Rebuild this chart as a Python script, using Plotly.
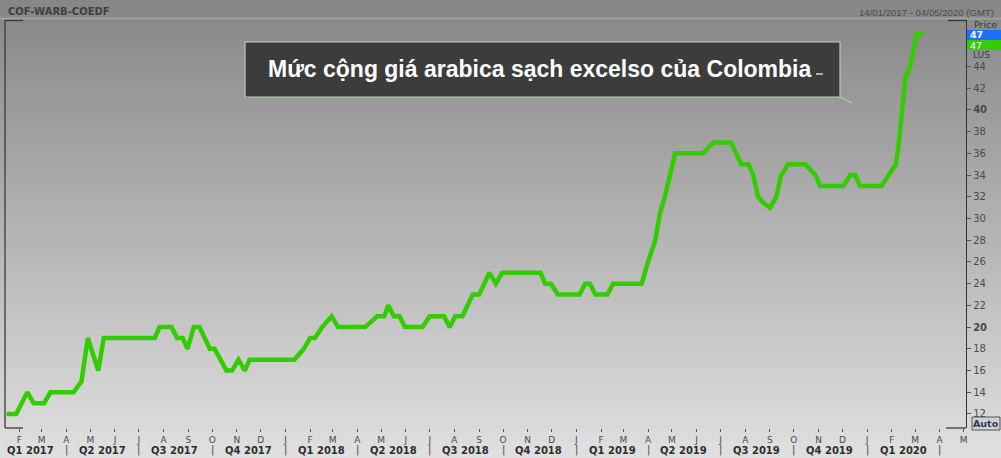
import plotly.graph_objects as go
import pandas as pd

# ---------------- data ----------------
dates = [
    "2017-01-16", "2017-01-28", "2017-02-11", "2017-02-19", "2017-03-04", "2017-03-12",
    "2017-04-10", "2017-04-20", "2017-04-28", "2017-05-11", "2017-05-18", "2017-07-21",
    "2017-07-27", "2017-08-11", "2017-08-18", "2017-08-25", "2017-08-31", "2017-09-08",
    "2017-09-15", "2017-09-28", "2017-10-04", "2017-10-19", "2017-10-26", "2017-11-03",
    "2017-11-11", "2017-11-17", "2018-01-12", "2018-01-24", "2018-02-01", "2018-02-07",
    "2018-02-16", "2018-02-28", "2018-03-08", "2018-04-11", "2018-04-26", "2018-05-05",
    "2018-05-10", "2018-05-17", "2018-05-24", "2018-05-31", "2018-06-22", "2018-07-01",
    "2018-07-19", "2018-07-26", "2018-08-02", "2018-08-11", "2018-08-24", "2018-09-01",
    "2018-09-14", "2018-09-22", "2018-09-30", "2018-11-17", "2018-11-23", "2018-11-30",
    "2018-12-09", "2019-01-05", "2019-01-12", "2019-01-18", "2019-01-25", "2019-02-09",
    "2019-02-16", "2019-03-24", "2019-04-01", "2019-04-10", "2019-04-16", "2019-04-22",
    "2019-05-05", "2019-06-09", "2019-06-22", "2019-07-14", "2019-07-27", "2019-08-05",
    "2019-08-11", "2019-08-17", "2019-08-23", "2019-09-01", "2019-09-09", "2019-09-15",
    "2019-09-24", "2019-10-15", "2019-10-28", "2019-11-03", "2019-12-02", "2019-12-11",
    "2019-12-17", "2019-12-23", "2020-01-19", "2020-02-06", "2020-02-09", "2020-02-18",
    "2020-02-24", "2020-03-03", "2020-03-12",
]
values = [
    12, 12, 14, 13, 13, 14,
    14, 15, 19, 16, 19, 19,
    20, 20, 19, 19, 18, 20,
    20, 18, 18, 16, 16, 17,
    16, 17, 17, 18, 19, 19,
    20, 21, 20, 20, 21, 21,
    22, 21, 21, 20, 20, 21,
    21, 20, 21, 21, 23, 23,
    25, 24, 25, 25, 24, 24,
    23, 23, 24, 24, 23, 23,
    24, 24, 26, 28, 30.5, 32,
    36, 36, 37, 37, 35, 35,
    34, 32, 31.5, 31, 32, 34,
    35, 35, 34, 33, 33, 34,
    34, 33, 33, 35, 36.5, 43,
    44, 47, 47,
]

series_name = "COF-WARB-COEDF"
date_range_label = "14/01/2017 - 04/05/2020 (GMT)"
chart_title = "Mức cộng giá arabica sạch excelso của Colombia"
last_value = 47
month_initials = ["J", "F", "M", "A", "M", "J", "J", "A", "S", "O", "N", "D"]
quarter_labels = ["Q1 2017", "Q2 2017", "Q3 2017", "Q4 2017",
                  "Q1 2018", "Q2 2018", "Q3 2018", "Q4 2018",
                  "Q1 2019", "Q2 2019", "Q3 2019", "Q4 2019", "Q1 2020"]
y_ticks = list(range(12, 46, 2))

# ---------------- geometry helpers ----------------
W, H = 1001, 458
L, R, T, B = 5, 966, 20, 428   # plot area in pixels
PW, PH = R - L, B - T


def px(x):
    return (x - L) / PW


def py(y):
    return (B - y) / PH


shapes = []
# vertical gradient background
n_bands = 60
for i in range(n_bands):
    y0 = i * H / n_bands
    y1 = (i + 1) * H / n_bands + 0.6
    v = int(round(134 + (y0 + y1) / 2 / H * (224 - 134)))
    shapes.append(dict(type="rect", xref="paper", yref="paper", layer="below",
                       x0=px(-2), x1=px(W + 2), y0=py(y1), y1=py(y0),
                       line=dict(width=0), fillcolor=f"rgb({v},{v},{v})"))

# header separator
shapes.append(dict(type="line", xref="paper", yref="paper", layer="below",
                   x0=px(0), x1=px(W), y0=py(18.5), y1=py(18.5),
                   line=dict(color="#a4a4a4", width=1.5)))

# frame lines
frame = [
    (5, 20, 5, 428), (5, 20.5, 23, 20.5), (5, 428, 23, 428),
    (948, 20.5, 966, 20.5), (946, 428, 966, 428),
]
for x0, y0, x1, y1 in frame:
    shapes.append(dict(type="line", xref="paper", yref="paper",
                       x0=px(x0), x1=px(x1), y0=py(y0), y1=py(y1),
                       line=dict(color="#3a3a3a", width=1.3)))

# title box
shapes.append(dict(type="rect", xref="paper", yref="paper",
                   x0=px(245), x1=px(840), y0=py(97), y1=py(42),
                   fillcolor="#3c3c3c", line=dict(color="#a9d9a0", width=1.2)))
shapes.append(dict(type="line", xref="paper", yref="paper",
                   x0=px(840), x1=px(852), y0=py(97), y1=py(103),
                   line=dict(color="#b9dcb2", width=1)))
shapes.append(dict(type="line", xref="paper", yref="paper",
                   x0=px(816), x1=px(823), y0=py(74), y1=py(74),
                   line=dict(color="#b9f0b0", width=1.5)))

# price tags
shapes.append(dict(type="rect", xref="paper", yref="paper",
                   x0=px(967), x1=px(1001), y0=py(40), y1=py(30),
                   fillcolor="#1f6fff", line=dict(width=0)))
shapes.append(dict(type="rect", xref="paper", yref="paper",
                   x0=px(967), x1=px(1001), y0=py(50), y1=py(40),
                   fillcolor="#33cc00", line=dict(width=0)))
# Auto box
shapes.append(dict(type="rect", xref="paper", yref="paper",
                   x0=px(972), x1=px(1000), y0=py(430), y1=py(417),
                   fillcolor="#d0d0d8", line=dict(color="#555555", width=1)))

annotations = []
annotations.append(dict(text=f"<b>{series_name}</b>", xref="paper", yref="paper",
                        x=px(6), y=py(11), xanchor="left", yanchor="middle", showarrow=False,
                        font=dict(family="DejaVu Sans", size=10, color="#3f3f3f")))
annotations.append(dict(text=date_range_label, xref="paper", yref="paper",
                        x=px(996), y=py(12), xanchor="right", yanchor="middle", showarrow=False,
                        font=dict(family="Liberation Sans", size=9.6, color="#4c4c4c")))
annotations.append(dict(text=f"<b>{chart_title}</b>", xref="paper", yref="paper",
                        x=px(540), y=py(69), xanchor="center", yanchor="middle", showarrow=False,
                        font=dict(family="Liberation Sans", size=23, color="#ffffff")))
annotations.append(dict(text="Price", xref="paper", yref="paper",
                        x=px(972), y=py(25), xanchor="left", yanchor="middle", showarrow=False,
                        font=dict(family="DejaVu Sans", size=9.5, color="#3a3a3a")))
annotations.append(dict(text=f"<b>{last_value}</b>", xref="paper", yref="paper",
                        x=px(968), y=py(35), xanchor="left", yanchor="middle", showarrow=False,
                        font=dict(family="DejaVu Sans", size=9.5, color="#ffffff")))
annotations.append(dict(text=f"{last_value}", xref="paper", yref="paper",
                        x=px(968), y=py(45.5), xanchor="left", yanchor="middle", showarrow=False,
                        font=dict(family="DejaVu Sans", size=9.5, color="#ffffff")))
annotations.append(dict(text="LUS", xref="paper", yref="paper",
                        x=px(971), y=py(55), xanchor="left", yanchor="middle", showarrow=False,
                        font=dict(family="DejaVu Sans", size=9, color="#3a3a3a")))
annotations.append(dict(text="<b>Auto</b>", xref="paper", yref="paper",
                        x=px(986), y=py(423.5), xanchor="center", yanchor="middle", showarrow=False,
                        font=dict(family="DejaVu Sans", size=9.5, color="#303848")))

# quarter labels and separators
q_starts = pd.date_range("2017-01-01", "2020-01-01", freq="QS")
for lab, qs in zip(quarter_labels, q_starts):
    center = qs + pd.Timedelta(days=45)
    annotations.append(dict(text=f"<b>{lab}</b>", xref="x", yref="paper",
                            x=center, y=py(450), xanchor="center", yanchor="middle",
                            showarrow=False,
                            font=dict(family="DejaVu Sans", size=10, color="#2e2e2e")))
for qs in q_starts[1:].append(pd.DatetimeIndex(["2020-04-01"])):
    annotations.append(dict(text="|", xref="x", yref="paper",
                            x=qs, y=py(450), xanchor="center", yanchor="middle",
                            showarrow=False,
                            font=dict(family="DejaVu Sans", size=10, color="#444444")))

# month ticks
month_ticks = pd.date_range("2017-02-01", "2020-05-01", freq="MS")
month_text = [month_initials[d.month - 1] for d in month_ticks]

y_text = [f"<b>{v}</b>" if v in (20, 40) else str(v) for v in y_ticks]

fig = go.Figure()
fig.add_trace(go.Scatter(
    x=dates, y=values, mode="lines",
    line=dict(color="#33cc00", width=4.5), hoverinfo="skip", showlegend=False,
))

fig.update_layout(
    width=W, height=H,
    margin=dict(l=L, r=W - R, t=T, b=H - B),
    paper_bgcolor="#8a8a8a",
    plot_bgcolor="rgba(0,0,0,0)",
    shapes=shapes,
    annotations=annotations,
    showlegend=False,
    xaxis=dict(
        range=["2017-01-14", "2020-05-04"],
        showgrid=False, zeroline=False, showline=False,
        tickmode="array", tickvals=month_ticks, ticktext=month_text,
        ticks="outside", ticklen=3, tickcolor="#555555", tickwidth=1,
        tickfont=dict(family="DejaVu Sans", size=9, color="#4a4a4a"),
        tickangle=0,
    ),
    yaxis=dict(
        range=[10.71, 48.28], side="right",
        showgrid=False, zeroline=False,
        showline=True, linecolor="#333333", linewidth=1.3,
        tickmode="array", tickvals=y_ticks, ticktext=y_text,
        ticks="outside", ticklen=4, tickcolor="#555555",
        tickfont=dict(family="DejaVu Sans", size=10, color="#4a4a4a"),
    ),
)

fig.write_html(
    "out.html",
    config={"displayModeBar": False},
    post_script="document.body.style.margin='0';document.body.style.overflow='hidden';",
)
